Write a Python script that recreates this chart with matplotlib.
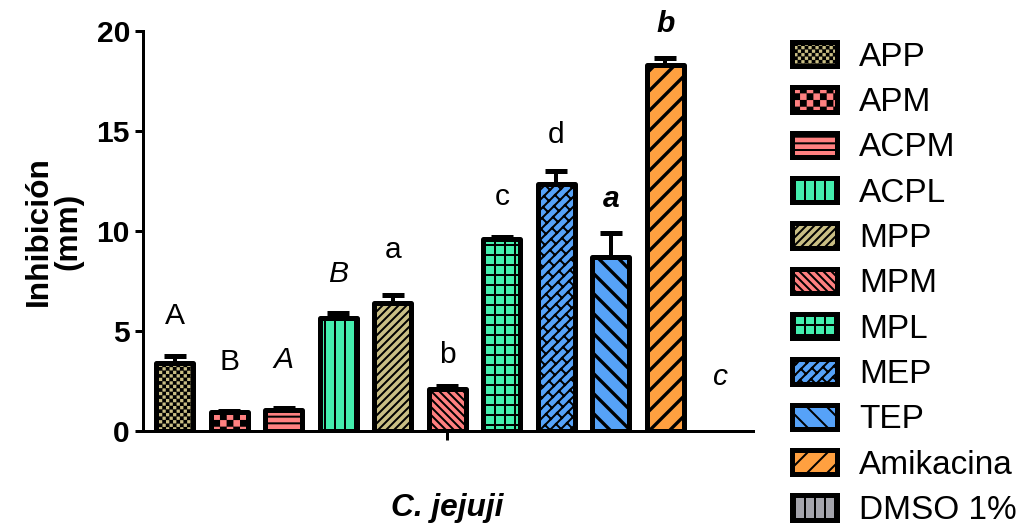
import warnings
import numpy as np
import matplotlib
matplotlib.use("Agg")
import matplotlib.pyplot as plt
import matplotlib.hatch as mhatch
from matplotlib.path import Path

# custom hatch letters ('k', 'K', 'w') are not in matplotlib's list
warnings.filterwarnings("ignore", category=matplotlib.MatplotlibDeprecationWarning)

extracts = ['APP', 'APM', 'ACPM', 'ACPL', 'MPP', 'MPM', 'MPL', 'MEP', 'TEP',
            'Amikacina', 'DMSO 1%']
inhibition = [3.4, 0.95, 1.05, 5.65, 6.4, 2.1, 9.6, 12.35, 8.7, 18.3, 0.0]
error_up = [0.35, 0.05, 0.08, 0.25, 0.4, 0.15, 0.1, 0.65, 1.2, 0.35, 0.0]
letters = ['A', 'B', 'A', 'B', 'a', 'b', 'c', 'd', 'a', 'b', 'c']
letter_style = ['normal', 'normal', 'italic', 'italic', 'normal', 'normal',
                'normal', 'normal', 'bolditalic', 'bolditalic', 'italic']
letter_y = [5.35, 3.05, 3.15, 7.45, 8.65, 3.4, 11.3, 14.4, 11.2, 19.95, 2.3]
group = 'C. jejuji'

colors = ['#c9be84', '#ff8080', '#ff8080', '#44eeae', '#c9be84', '#ff8080',
          '#44eeae', '#56a2f8', '#56a2f8', '#ffa040', '#a4a4ac']
hatches = ['k', 'K', '---', '||', '/////', '\\\\\\\\\\', '++', 'w', '\\\\', '//', '||']
hatch_lw = [1.2, 1.2, 1.2, 1.2, 1.2, 1.2, 1.2, 1.2, 2.0, 2.0, 1.2]


class CheckerHatch(mhatch.HatchPatternBase):
    """'k' fine checkerboard, 'K' coarse checkerboard (filled squares)."""

    def __init__(self, hatch, density):
        if 'k' in hatch:
            self.n, frac = 34, 0.5
        elif 'K' in hatch:
            self.n, frac = 18, 0.72
        else:
            self.n, frac = 0, 0.0
        self.cells = [(i, j) for i in range(self.n) for j in range(self.n)
                      if (i + j) % 2 == 0]
        self.half = frac / (2 * self.n) if self.n else 0.0
        self.num_vertices = 5 * len(self.cells)

    def set_vertices_and_codes(self, vertices, codes):
        h = self.half
        sq = np.array([[-h, -h], [h, -h], [h, h], [-h, h], [-h, -h]])
        pts = [sq + [(i + 0.5) / self.n, (j + 0.5) / self.n] for i, j in self.cells]
        vertices[:] = np.concatenate(pts)
        codes[:] = np.tile([Path.MOVETO, Path.LINETO, Path.LINETO,
                            Path.LINETO, Path.CLOSEPOLY], len(self.cells))


class BrickHatch(mhatch.HatchPatternBase):
    """'w' diagonal brick: '/' lines joined by staggered short '\\' ties."""

    def __init__(self, hatch, density):
        self.on = 'w' in hatch
        self.nl, self.nb = 12, 10
        self.ks = list(range(-self.nl - 1, self.nl + 1))
        self.js = list(range(-2 * self.nb, 3 * self.nb))
        n_seg = len(self.ks) * (1 + len(self.js))
        self.num_vertices = 2 * n_seg if self.on else 0

    def set_vertices_and_codes(self, vertices, codes):
        segs = []
        step = 1.0 / (2 * self.nl)
        for k in self.ks:
            c = k / self.nl
            segs.append([[-1.0, -1.0 + c], [2.0, 2.0 + c]])
            for j in self.js:
                # ties sit at a fixed position along the line, shifted by
                # half a brick on every other row
                t = (j + 0.5 * (k % 2)) / self.nb - c / 2
                segs.append([[t, t + c], [t - step, t + c + step]])
        vertices[:] = np.array(segs).reshape(-1, 2)
        codes[:] = np.tile([Path.MOVETO, Path.LINETO], len(segs))


mhatch._hatch_types.extend([CheckerHatch, BrickHatch])

plt.rcParams['font.family'] = ['Liberation Sans', 'DejaVu Sans']
plt.rcParams['hatch.linewidth'] = 1.2
plt.rcParams['hatch.color'] = 'black'

fig = plt.figure(figsize=(1016 / 120, 529 / 120), dpi=120)
ax = fig.add_axes([0.1407, 0.1853, 0.6004, 0.7561])

x = np.arange(len(extracts))
bars = ax.bar(x, inhibition, width=0.68, color=colors, edgecolor='black',
              linewidth=3, zorder=2)
for b, h, lw, name in zip(bars, hatches, hatch_lw, extracts):
    b.set_hatch(h)
    if hasattr(b, 'set_hatch_linewidth'):
        b.set_hatch_linewidth(lw)
    b.set_joinstyle('round')
    b.set_label(name)

vals = np.array(inhibition)
errs = np.array(error_up)
m = vals > 0
ax.errorbar(x[m], vals[m], yerr=[np.zeros(m.sum()), errs[m]], fmt='none',
            ecolor='black', elinewidth=2.4, capsize=6.5, capthick=3, zorder=3)

for xi, lab, sty, ly in zip(x, letters, letter_style, letter_y):
    ax.text(xi, ly, lab, ha='center', va='baseline', fontsize=18,
            fontstyle='italic' if 'italic' in sty else 'normal',
            fontweight='bold' if 'bold' in sty else 'normal')

ax.set_xlim(-0.587, 10.606)
ax.set_ylim(0, 20)
ax.set_yticks([0, 5, 10, 15, 20])
ax.set_xticks([5])
ax.set_xticklabels([group], fontsize=19, fontweight='bold', fontstyle='italic')
ax.tick_params(axis='y', length=4.8, width=1.8, labelsize=18, pad=3)
ax.tick_params(axis='x', length=5.5, width=1.8, pad=32)
for lbl in ax.get_yticklabels():
    lbl.set_fontweight('bold')
for s in ['top', 'right']:
    ax.spines[s].set_visible(False)
for s in ['left', 'bottom']:
    ax.spines[s].set_linewidth(1.8)
    ax.spines[s].set_zorder(4)

ax.set_ylabel('Inhibición\n(mm)', fontsize=19, fontweight='bold',
              linespacing=0.95, labelpad=8)

ax.legend(loc='upper left', bbox_to_anchor=(0.780, 0.921),
          bbox_transform=fig.transFigure, frameon=False, fontsize=20,
          handlelength=1.35, handleheight=0.75, labelspacing=0.43,
          handletextpad=0.65, borderpad=0, borderaxespad=0)

# zero-height bar: keep its legend entry but draw no outline on the axis
bars[-1].set_linewidth(0)

fig.savefig('out.png', dpi=120)
